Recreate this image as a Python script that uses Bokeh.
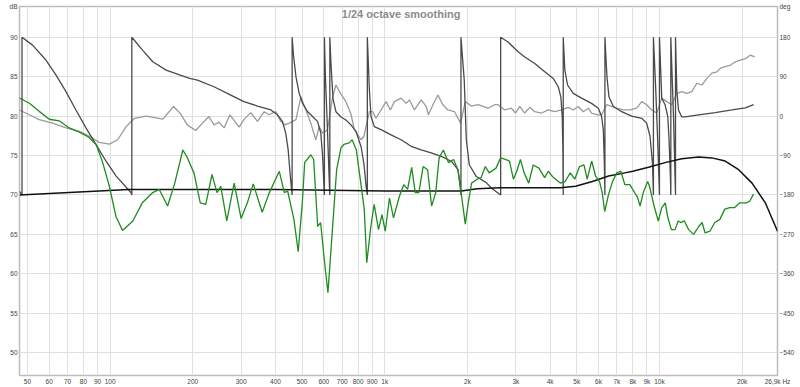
from bokeh.plotting import figure
from bokeh.models import Range1d, LinearAxis, FixedTicker, Label
from bokeh.embed import file_html
from bokeh.resources import INLINE

# ---------------- data ----------------
x_ticks = [50, 60, 70, 80, 90, 100, 200, 300, 400, 500, 600, 700, 800, 900,
           1000, 2000, 3000, 4000, 5000, 6000, 7000, 8000, 9000, 10000, 20000, 26900]
x_tick_labels = ["50", "60", "70", "80", "90", "100", "200", "300", "400", "500", "600",
                 "700", "800", "900", "1k", "2k", "3k", "4k", "5k", "6k", "7k", "8k",
                 "9k", "10k", "20k", "26,9k Hz"]
db_ticks = [50, 55, 60, 65, 70, 75, 80, 85, 90]
deg_ticks = [-540, -450, -360, -270, -180, -90, 0, 90, 180]
left_unit = "dB"
right_unit = "deg"

green_freq = [46.8, 51, 55.2, 60.1, 65.3, 71, 77, 83, 89, 94, 99.4, 105, 111, 121, 131, 143, 151,
              162, 172, 184, 190, 202, 213, 223, 235, 245, 253, 266, 283, 300, 316, 332, 358, 379,
              413, 431, 443, 467, 484, 501, 511, 538, 551, 570, 584, 604, 621, 640, 668, 693, 710,
              742, 761, 788, 818, 842, 860, 890, 915, 949, 977, 1004, 1040, 1076, 1130, 1172, 1211,
              1253, 1291, 1331, 1379, 1432, 1481, 1533, 1577, 1634, 1706, 1780, 1846, 1905, 1964,
              2014, 2070, 2170, 2244, 2323, 2400, 2541, 2641, 2750, 2844, 2940, 3024, 3118, 3217,
              3343, 3470, 3640, 3820, 3936, 4112, 4355, 4535, 4735, 4916, 5116, 5312, 5456, 5665,
              5856, 6053, 6187, 6320, 6530, 6750, 6988, 7234, 7484, 7800, 8120, 8300, 8500, 8730,
              9060, 9200, 9560, 9900, 10200, 10500, 10700, 11050, 11400, 11700, 11950, 12320,
              12770, 13320, 13900, 14300, 14650, 15270, 15900, 16600, 17300, 18030, 18800, 19600,
              20710, 21300, 22000]
green_db = [82.3, 81.6, 80.6, 79.6, 79.4, 78.5, 78.0, 77.4, 76.4, 74.1, 71.1, 67.3, 65.5, 66.7, 69.0,
            70.3, 70.7, 68.6, 71.5, 75.7, 74.9, 72.8, 69.0, 68.8, 72.6, 70.3, 71.1, 66.7, 71.5, 67.0,
            69.0, 71.4, 67.8, 70.2, 73.0, 70.3, 70.5, 66.9, 62.8, 69.0, 74.1, 75.1, 74.5, 66.0, 66.5,
            61.4, 57.6, 64.0, 73.2, 76.0, 76.4, 76.6, 77.0, 75.7, 71.5, 68.2, 61.4, 66.0, 68.8, 65.6,
            67.5, 65.4, 69.6, 67.1, 69.8, 71.3, 70.7, 73.5, 70.3, 70.3, 73.6, 73.2, 68.6, 70.3, 74.7,
            75.7, 74.1, 74.5, 73.2, 69.8, 66.3, 69.0, 71.5, 72.0, 72.2, 73.6, 72.8, 73.4, 74.7, 74.5,
            74.3, 72.0, 73.0, 74.5, 72.8, 71.5, 73.8, 73.4, 72.2, 73.0, 72.2, 71.5, 71.7, 72.8, 72.0,
            73.6, 73.8, 72.0, 74.3, 72.4, 71.7, 70.3, 67.9, 70.1, 71.7, 72.8, 73.0, 71.3, 71.3, 70.3,
            69.8, 68.6, 70.3, 71.7, 71.1, 68.6, 66.7, 68.4, 69.0, 67.3, 65.6, 65.6, 66.7, 66.5, 66.7,
            65.6, 65.0, 66.0, 66.5, 65.2, 65.4, 66.5, 66.9, 68.2, 68.4, 68.4, 69.0, 69.0, 69.2, 70.1]

black_freq = [46.8, 117, 400, 1000, 1900, 2170, 2630, 4355, 4950, 5700, 6530, 7480, 8000, 9120,
              10480, 12060, 13880, 15520, 17350, 19420, 21730, 24290, 26900]
black_db = [70.0, 70.7, 70.7, 70.5, 70.5, 70.8, 70.9, 70.9, 71.1, 71.7, 72.4, 72.8, 73.0, 73.5,
            74.1, 74.6, 74.8, 74.7, 74.3, 73.2, 71.5, 69.0, 65.4]

phase_freq = [46.8, 47.8, 47.8, 52.2, 58.4, 63.5, 69.1, 75.1, 81.7, 88.9, 96.7, 105.2, 119.3, 120,
              120, 131.5, 143, 160, 179, 195, 208, 239, 275, 307, 344, 385, 407, 424, 436, 445, 452,
              459, 460, 460, 466, 475, 488, 502, 524, 546, 569, 585, 594, 602, 603, 603, 608, 616,
              624, 630, 631, 631, 637, 648, 664, 693, 722, 753, 786, 820, 840, 855, 864, 864, 879,
              891, 916, 969, 1054, 1147, 1247, 1357, 1476, 1606, 1746, 1847, 1883, 1894, 1894, 1947,
              1981, 2031, 2154, 2343, 2443, 2642, 2642, 2811, 3058, 3233, 3516, 3824, 4104, 4281,
              4375, 4426, 4449, 4464, 4464, 4525, 4628, 4855, 5205, 5660, 5990, 6158, 6246, 6300,
              6331, 6331, 6439, 6549, 6796, 7284, 7922, 8617, 8985, 9240, 9430, 9508, 9508, 9694,
              9858, 10000, 10000, 10195, 10481, 10723, 10839, 10969, 11000, 11000, 11250, 11440,
              11440, 11565, 11730, 12060, 12400, 13880, 15960, 18360, 20530, 22030]
phase_deg = [-172, -180, 180, 162, 128, 94, 56, 14, -27, -65, -103, -137, -175, -180,
             180, 150, 124, 105, 94, 86, 82, 67, 48, 33, 23, 14, 3, -12, -39, -77, -130,
             -175, -180, 180, 135, 90, 52, 29, 10, -1, -12, -39, -92, -175, -180, 180, 90, 0,
             -100, -175, -180, 180, 120, 40, 10, -2, -9, -20, -35, -70, -110, -160, -180, 180, 60,
             -1, -24, -31, -43, -54, -69, -77, -84, -92, -103, -122, -160, -180, 180, 82,
             -54, -111, -138, -152, -164, -180, 180, 169, 147, 135, 120, 101, 86, 67,
             44, -1, -69, -180, 180, 105, 71, 52, 41, 29, 18, -1, -31, -107,
             -180, 180, 90, 44, 22, 10, 0, -5, -16, -46, -107, -180, 180, 60,
             -60, -180, 180, 41, 26, -1, -54, -145, -180, 180, 0, -180,
             180, 60, 14, -2, -2, 3, 8, 14, 19, 26]

light_freq = [46.8, 50.8, 55.2, 61.7, 69.1, 77.3, 84, 91.4, 99.4, 106.6, 114.4, 122.7, 135.3, 155.6,
              170.2, 180.6, 191, 205, 217, 229, 239, 249, 260, 273, 295, 307, 325, 344, 364, 379,
              401, 418, 433, 449, 475, 495, 516, 538, 561, 577, 594, 619, 646, 664, 693, 722, 753,
              775, 820, 840, 879, 904, 929, 969, 1011, 1048, 1084, 1147, 1196, 1230, 1282, 1357,
              1415, 1443, 1497, 1561, 1628, 1698, 1795, 1888, 1964, 2065, 2185, 2279, 2377, 2443,
              2512, 2585, 2733, 2890, 2990, 3100, 3233, 3371, 3516, 3719, 3936, 4159, 4400, 4655,
              4855, 5063, 5281, 5508, 5660, 5954, 6158, 6423, 6699, 6987, 7389, 7808, 8265, 8617,
              8985, 9374, 9775, 10195, 10630, 11090, 11565, 12060, 12580, 13120, 13680, 14270,
              14880, 15520, 16190, 16640, 17350, 18100, 18880, 19690, 20530, 21410, 22220]
light_deg = [14, 3, -8, -16, -27, -35, -46, -60, -64, -54, -24, -5, 0, -7,
             22, 5, -20, -33, -16, -1, -20, -14, -27, 3, -25, -8, 8, -12, 10, 3,
             10, -12, -20, -16, -8, 44, 14, -16, -54, -24, -39, -31, 44, 71, 50, 33, 5,
             -31, -54, -46, 10, 10, -5, 14, 33, 14, 33, 41, 29, 37, 14, 37,
             22, 3, 26, 48, 26, 14, 10, -16, 33, 23, 26, 22, 18, 22,
             26, 26, 14, 18, 7, 22, 7, 20, 10, 7, 14, 10, 14, 20,
             14, 22, 10, 18, 7, 3, 3, 26, 22, 18, 14, 14, 18, 33,
             26, 14, 7, 41, 33, 26, 52, 56, 52, 56, 75, 71,
             86, 98, 101, 109, 113, 116, 124, 128, 131, 139, 135]

# ---------------- figure ----------------
FONT = "Liberation Sans"
db_lo, db_hi = 47.1, 93.9
deg_lo, deg_hi = (db_lo - 80) * 18, (db_hi - 80) * 18

p = figure(width=800, height=387, x_axis_type="log",
           x_range=Range1d(46.8, 26900), y_range=Range1d(db_lo, db_hi),
           output_backend="svg", toolbar_location=None,
           min_border_left=19, min_border_right=23, min_border_top=6, min_border_bottom=10,
           background_fill_color="white", border_fill_color="white")
p.extra_y_ranges = {"deg": Range1d(deg_lo, deg_hi)}

p.outline_line_color = "#bdbdbd"
p.outline_line_width = 1.5

# unit captions ride on an extra tick at the very top of each vertical axis
db_unit_pos = db_hi - 0.02
deg_unit_pos = deg_hi - 0.4

p.xaxis.ticker = FixedTicker(ticks=x_ticks, minor_ticks=[])
p.xaxis.major_label_overrides = {t: l for t, l in zip(x_ticks, x_tick_labels)}
p.yaxis.ticker = FixedTicker(ticks=db_ticks + [db_unit_pos], minor_ticks=[])
p.yaxis.major_label_overrides = {db_unit_pos: left_unit}

right = LinearAxis(y_range_name="deg",
                   ticker=FixedTicker(ticks=deg_ticks + [deg_unit_pos], minor_ticks=[]))
right.major_label_overrides = {deg_unit_pos: right_unit}
p.add_layout(right, "right")

for ax in [p.xaxis[0], p.yaxis[0], right]:
    ax.axis_line_color = None
    ax.major_tick_line_color = None
    ax.minor_tick_line_color = None
    ax.major_tick_out = 0
    ax.major_tick_in = 0
    ax.minor_tick_out = 0
    ax.minor_tick_in = 0
    ax.axis_label = None
    ax.axis_label_standoff = 0
    ax.major_label_text_font = FONT
    ax.major_label_text_font_size = "6.5px"
    ax.major_label_text_color = "#444444"
    ax.major_label_standoff = 2

p.xgrid.grid_line_color = "#e0e0e0"
p.ygrid.grid_line_color = "#e0e0e0"
p.ygrid.ticker = FixedTicker(ticks=db_ticks, minor_ticks=[])
p.xgrid.grid_line_width = 1
p.ygrid.grid_line_width = 1

p.line(light_freq, light_deg, y_range_name="deg", line_color="#9a9a9a", line_width=1.3)
p.line(phase_freq, phase_deg, y_range_name="deg", line_color="#4a4a4a", line_width=1.3)
p.line(black_freq, black_db, line_color="#111111", line_width=1.5)
p.line(green_freq, green_db, line_color="#1e8c1e", line_width=1.3)

p.add_layout(Label(x=1147, y=93.0, text="1/24 octave smoothing", text_align="center",
                   text_baseline="middle", text_font=FONT, text_font_size="11px",
                   text_font_style="bold", text_color="#8c8c8c"))

open("out.html", "w").write(file_html(p, INLINE))
